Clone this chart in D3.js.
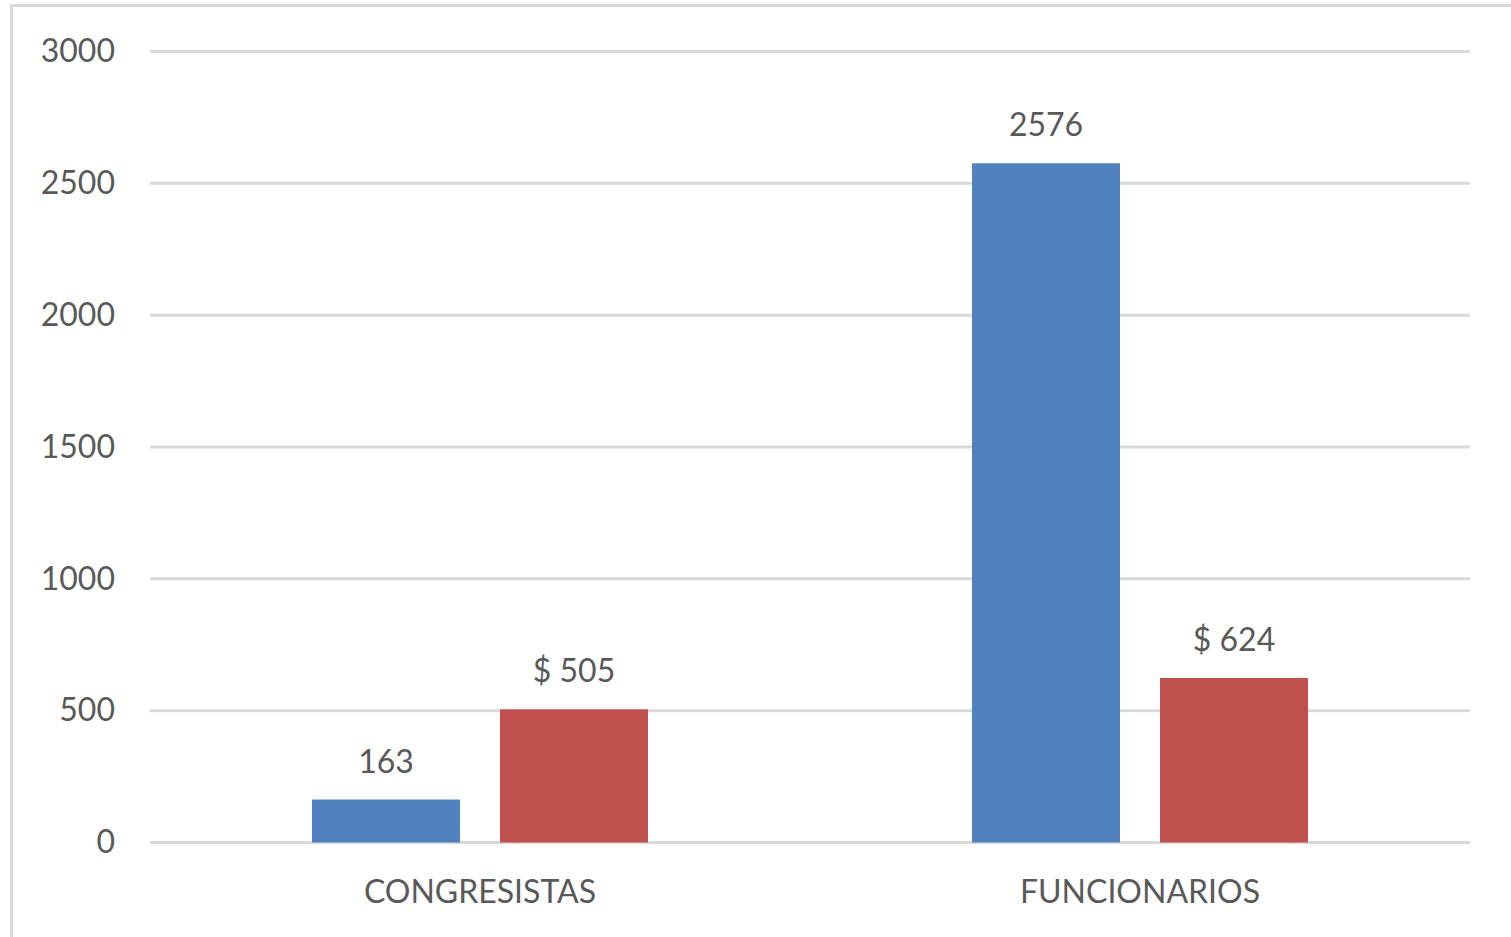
<!DOCTYPE html>
<html>
<head>
<meta charset="utf-8">
<script src="https://cdn.jsdelivr.net/npm/d3@7"></script>
<style>
  html, body { margin: 0; padding: 0; background: #fff; }
  svg { display: block; }
  text { font-family: Lato, "Open Sans", sans-serif; fill: #595959; }
</style>
</head>
<body>
<div id="chart"></div>
<script>
const categories = ['CONGRESISTAS', 'FUNCIONARIOS'];
const seriesNames = ['cantidad', 'monto'];
const cantidad = [163, 2576];
const monto = [505, 624];
const labelFmt = [d => String(d), d => '$ ' + d];
const colors = ['#4f81bd', '#c0504d'];
const yTicks = [0, 500, 1000, 1500, 2000, 2500, 3000];

const width = 1511, height = 937;
const margin = { top: 51.5, right: 41, bottom: 94.5, left: 150 };

const svg = d3.select('#chart')
  .append('svg')
  .attr('width', width)
  .attr('height', height);

// chart frame (only top and left edges visible in the reference)
svg.append('path')
  .attr('d', `M11.5,${height} V5.5 H${width}`)
  .attr('fill', 'none')
  .attr('stroke', '#d9d9d9')
  .attr('stroke-width', 3);

const x0 = d3.scaleBand()
  .domain(categories)
  .range([margin.left, width - margin.right])
  .paddingInner(0)
  .paddingOuter(0);

const y = d3.scaleLinear()
  .domain([0, 3000])
  .range([height - margin.bottom, margin.top]);

const groupWidth = 336;
const x1 = d3.scaleBand()
  .domain(seriesNames)
  .range([0, groupWidth])
  .paddingInner(40 / 188)
  .paddingOuter(0);

// gridlines
svg.append('g')
  .selectAll('line')
  .data(yTicks)
  .enter()
  .append('line')
  .attr('x1', margin.left)
  .attr('x2', width - margin.right)
  .attr('y1', d => y(d))
  .attr('y2', d => y(d))
  .attr('stroke', '#d9d9d9')
  .attr('stroke-width', 3);

// y tick labels
const yAxis = svg.append('g')
  .attr('transform', `translate(115,0)`)
  .call(d3.axisLeft(y).tickValues(yTicks).tickFormat(d3.format('d')).tickSize(0).tickPadding(0));
yAxis.select('.domain').remove();
yAxis.selectAll('text')
  .attr('font-size', 32)
  .attr('fill', '#595959')
  .style('font-family', 'Lato, "Open Sans", sans-serif');

const rows = categories.map((c, i) => ({
  cat: c,
  values: [cantidad[i], monto[i]]
}));

const groups = svg.append('g')
  .selectAll('g')
  .data(rows)
  .enter()
  .append('g')
  .attr('transform', d => `translate(${x0(d.cat) + (x0.bandwidth() - groupWidth) / 2},0)`);

groups.selectAll('rect')
  .data(d => d.values.map((v, j) => ({ key: seriesNames[j], v, j })))
  .enter()
  .append('rect')
  .attr('x', d => x1(d.key))
  .attr('width', x1.bandwidth())
  .attr('y', d => y(d.v))
  .attr('height', d => y(0) - y(d.v))
  .attr('fill', d => colors[d.j]);

groups.selectAll('text')
  .data(d => d.values.map((v, j) => ({ key: seriesNames[j], v, j })))
  .enter()
  .append('text')
  .attr('x', d => x1(d.key) + x1.bandwidth() / 2)
  .attr('y', d => y(d.v) - 27)
  .attr('text-anchor', 'middle')
  .attr('font-size', 32)
  .text(d => labelFmt[d.j](d.v));

// category labels
svg.append('g')
  .selectAll('text')
  .data(categories)
  .enter()
  .append('text')
  .attr('x', d => x0(d) + x0.bandwidth() / 2)
  .attr('y', 903)
  .attr('text-anchor', 'middle')
  .attr('font-size', 32)
  .text(d => d);
</script>
</body>
</html>
